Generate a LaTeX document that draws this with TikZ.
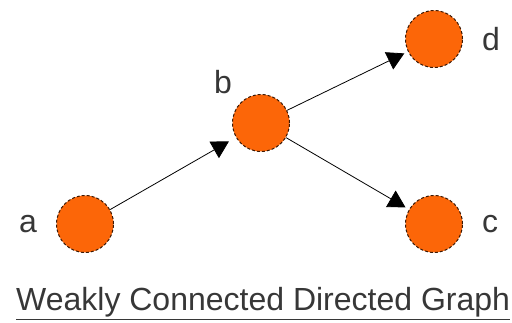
\documentclass[tikz,border=0pt]{standalone}
\usepackage{fontspec}
\setmainfont{Liberation Sans}
\usetikzlibrary{arrows.meta}
\definecolor{vorange}{RGB}{252,102,8}
\definecolor{vedge}{RGB}{60,25,5}
\definecolor{vtext}{RGB}{55,55,55}

\begin{document}
\begin{tikzpicture}[
  x=1pt, y=-1pt,
  vtx/.style={circle, draw=vedge, densely dashed, line width=1pt, fill=vorange, minimum size=57pt, inner sep=0pt},
  lbl/.style={font=\fontsize{32}{34}\selectfont, text=vtext, inner sep=0pt},
  arr/.style={-{Triangle[length=17pt,width=19pt]}, line width=0.8pt, shorten >=4pt},
]
  \useasboundingbox (0,0) rectangle (512,323);

  % Vertices
  \node[vtx, label={[lbl, label distance=19pt]left:a}] (a) at (85,224) {};
  \node[vtx, label={[lbl, label distance=12pt]135:b}] (b) at (261,123) {};
  \node[vtx, label={[lbl, label distance=19pt]right:c}] (c) at (434,224) {};
  \node[vtx, label={[lbl, label distance=19pt]right:d}] (d) at (434,39) {};

  % Edges
  \draw[arr, shorten >=8pt] (a) -- (b);
  \draw[arr] (b) -- (d);
  \draw[arr] (b) -- (c);

  % Caption
  \node[anchor=base west, inner sep=0pt, text=vtext, font=\fontsize{32}{36}\selectfont] (title) at (16,311) {\underline{Weakly Connected Directed Graph}};
\end{tikzpicture}
\end{document}
